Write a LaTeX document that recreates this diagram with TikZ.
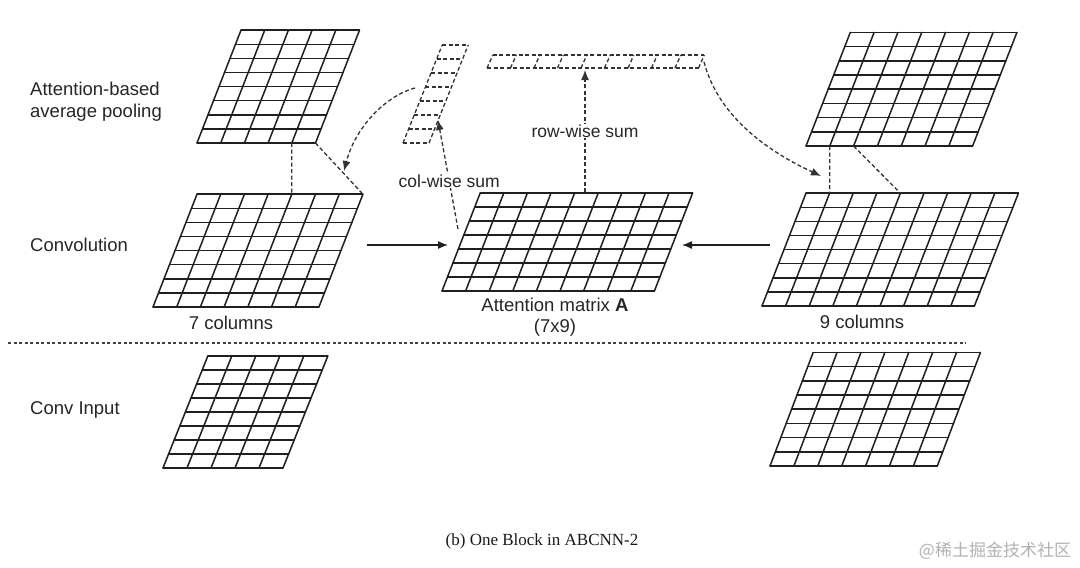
\documentclass[tikz,border=0pt]{standalone}
\usepackage{fontspec}
\setmainfont{Liberation Sans}
\newfontfamily\capfont{Liberation Serif}
\newfontfamily\cjkfont{Noto Sans CJK SC}
\usetikzlibrary{arrows.meta,calc}
% name, blx, bly, cols, rows, cellw, rowh, slant, style
\newcommand\shgrid[9]{%
  \foreach \i in {0,...,#5}{%
    \draw[#9] ({#2+\i*#7*#8},{#3-\i*#7}) coordinate (#1-l\i) -- ++({#4*#6},0) coordinate (#1-r\i);
  }%
  \foreach \j in {0,...,#4}{%
    \draw[#9] ({#2+\j*#6},#3) coordinate (#1-b\j) -- ++({#5*#7*#8},{-#5*#7}) coordinate (#1-t\j);
  }%
}
\begin{document}
\begin{tikzpicture}[x=1pt,y=-1pt,
  gridline/.style={line width=1.5pt, draw=black!88, line cap=round, line join=round},
  dashgrid/.style={line width=1.3pt, draw=black!80, dash pattern=on 4pt off 2.5pt},
  dline/.style={line width=1.3pt, draw=black!80, dash pattern=on 4pt off 2.5pt},
  darr/.style={dline, -{Latex[length=10pt,width=8pt]}},
  sarr/.style={line width=1.3pt, draw=black!88, -{Latex[length=10pt,width=8pt]}},
  lab/.style={inner sep=1pt, text=black!85, font=\fontsize{18.5}{22}\selectfont},
  slab/.style={inner sep=1pt, text=black!85, fill=white, font=\fontsize{17.5}{20}\selectfont},
]
\useasboundingbox[fill=white] (0,0) rectangle (1080,568);

% grids
\shgrid{PL}{197}{143}{5}{8}{23.7}{14.1}{0.39}{gridline}
\shgrid{CL}{153}{307}{7}{8}{23.7}{14.1}{0.39}{gridline}
\shgrid{A}{442}{291}{9}{7}{23.6}{14}{0.39}{gridline}
\shgrid{PR}{806}{146}{7}{8}{23.8}{14.2}{0.39}{gridline}
\shgrid{CR}{762}{306}{9}{8}{23.6}{14.1}{0.39}{gridline}
\shgrid{IL}{163}{468}{5}{8}{24}{14}{0.4}{gridline}
\shgrid{IR}{770}{466}{7}{8}{23.9}{14.2}{0.38}{gridline}
\shgrid{CV}{403}{143}{1}{7}{26}{14}{0.4}{dashgrid}
\shgrid{RV}{487}{68}{9}{1}{23.5}{13}{0.45}{dashgrid}

% pooling windows
\draw[dline] (PL-b4) -- (CL-t4);
\draw[dline] (PL-b5) -- (CL-t7);
\draw[dline] (PR-b1) -- (CR-t1);
\draw[dline] (PR-b2) -- (CR-t4);

% sums
\coordinate (csS) at (458,229);
\coordinate (csE) at (438,120);
\draw[darr] (csS) -- node[slab,pos=0.44] (tcol) {col-wise sum} (csE);
\coordinate (rsS) at (585,192);
\coordinate (rsE) at (585,70);
\draw[darr] (rsS) -- node[slab,pos=0.5] (trow) {row-wise sum} (rsE);

% curved arrows
\coordinate (cvL) at (415,88);
\coordinate (cvT) at (344,171);
\draw[darr] (cvL) .. controls (385,96) and (355,128) .. (cvT);
\coordinate (rvR) at (704,62);
\coordinate (prT) at (821,176);
\draw[darr] (rvR) .. controls (718,115) and (765,150) .. (prT);

% solid arrows
\coordinate (aLs) at (367,245);
\coordinate (aLe) at (448,245);
\draw[sarr] (aLs) -- (aLe);
\coordinate (aRs) at (770,245);
\coordinate (aRe) at (682,245);
\draw[sarr] (aRs) -- (aRe);

% separator
\coordinate (sepL) at (8,343);
\coordinate (sepR) at (966,343);
\draw[line width=1.1pt, draw=black!75, dash pattern=on 3pt off 2.5pt] (sepL) -- (sepR);

% labels
\node[lab,anchor=west,align=left] (tPool) at (29,102) {Attention-based\\average pooling};
\node[lab,anchor=west] (tConv) at (29,245) {Convolution};
\node[lab,anchor=west] (tIn) at (29,410) {Conv Input};
\node[lab] (t7) at (231,323) {7 columns};
\node[lab] (t9) at (862,322) {9 columns};
\node[lab,align=center,font=\fontsize{18.5}{20.5}\selectfont] (tA) at (555,317) {Attention matrix \textbf{A}\\(7x9)};
\node[inner sep=1pt, text=black!90, font=\capfont\fontsize{17}{20}\selectfont] (cap) at (542,541) {(b) One Block in ABCNN-2};
\node[inner sep=1pt, text=black!30, font=\cjkfont\fontsize{17}{20}\selectfont] (wm) at (995,551) {@稀土掘金技术社区};
\end{tikzpicture}
\end{document}
